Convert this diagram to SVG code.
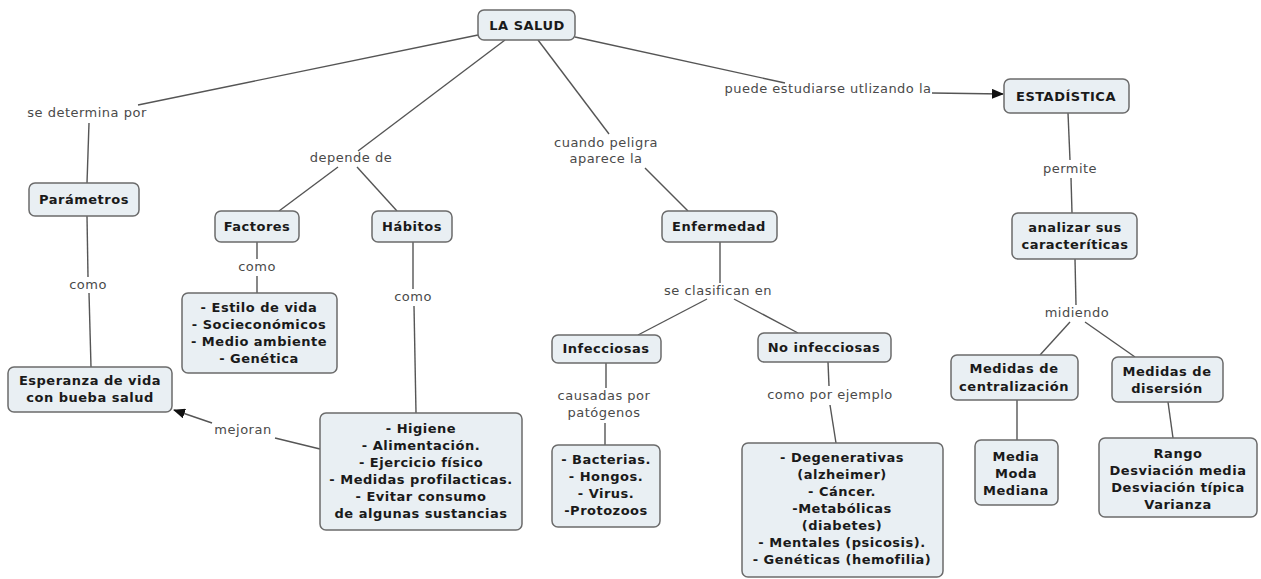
<svg xmlns="http://www.w3.org/2000/svg" width="1261" height="579" viewBox="0 0 1261 579">
<defs>
<style>
.n rect{fill:#e9eff3;stroke:#6b6b6b;stroke-width:1.5}
.n text{font-family:"DejaVu Sans",Verdana,sans-serif;font-weight:bold;font-size:13px;letter-spacing:0.5px;fill:#1a1a1a;text-anchor:middle}
.c line,.c polyline{stroke:#555;stroke-width:1.4;fill:none}
.l{font-family:"DejaVu Sans",Verdana,sans-serif;font-size:13px;letter-spacing:0.5px;fill:#4a4a4a;text-anchor:middle}
</style>
<marker id="ah" markerWidth="12" markerHeight="10" refX="11" refY="5" orient="auto" markerUnits="userSpaceOnUse">
<path d="M0,0 L12,5 L0,10 z" fill="#111"/>
</marker>
</defs>
<rect width="1261" height="579" fill="#fff"/>
<g class="c" id="connectors">
<line x1="478" y1="35" x2="138" y2="105"/>
<line x1="89" y1="123" x2="87" y2="183"/>
<line x1="505" y1="40" x2="358" y2="151"/>
<line x1="338" y1="167" x2="279" y2="211"/>
<line x1="357" y1="167" x2="397" y2="211"/>
<line x1="538" y1="40" x2="609" y2="134"/>
<line x1="645" y1="168" x2="688" y2="211"/>
<line x1="575" y1="37" x2="785" y2="83"/>
<line x1="932" y1="93" x2="1003" y2="94" marker-end="url(#ah)"/>
<line x1="1068" y1="113" x2="1070" y2="160"/>
<line x1="1071" y1="178" x2="1072" y2="213"/>
<line x1="1075" y1="259" x2="1076" y2="305"/>
<line x1="1070" y1="322" x2="1040" y2="355"/>
<line x1="1085" y1="322" x2="1135" y2="357"/>
<line x1="1017" y1="400" x2="1017" y2="440"/>
<line x1="1168" y1="402" x2="1173" y2="438"/>
<line x1="87" y1="216" x2="88" y2="277"/>
<line x1="89" y1="293" x2="91" y2="367"/>
<line x1="257" y1="242" x2="257" y2="259"/>
<line x1="257" y1="276" x2="257" y2="293"/>
<line x1="413" y1="242" x2="413" y2="289"/>
<line x1="414" y1="306" x2="416" y2="413"/>
<line x1="320" y1="449" x2="275" y2="438"/>
<line x1="212" y1="423" x2="174" y2="410" marker-end="url(#ah)"/>
<line x1="720" y1="242" x2="720" y2="283"/>
<line x1="707" y1="299" x2="638" y2="335"/>
<line x1="734" y1="299" x2="798" y2="333"/>
<line x1="606" y1="363" x2="606" y2="388"/>
<line x1="605" y1="423" x2="605" y2="445"/>
<line x1="828" y1="362" x2="829" y2="386"/>
<line x1="830" y1="405" x2="836" y2="443"/>
</g>
<g id="labels">
<text class="l" x="87" y="117">se determina por</text>
<text class="l" x="351" y="162">depende de</text>
<text class="l" x="606" y="147">cuando peligra</text>
<text class="l" x="606" y="163">aparece la</text>
<text class="l" x="828" y="93">puede estudiarse utlizando la</text>
<text class="l" x="1070" y="173">permite</text>
<text class="l" x="1077" y="317">midiendo</text>
<text class="l" x="88" y="289">como</text>
<text class="l" x="257" y="271">como</text>
<text class="l" x="413" y="301">como</text>
<text class="l" x="243" y="434">mejoran</text>
<text class="l" x="718" y="295">se clasifican en</text>
<text class="l" x="604" y="400">causadas por</text>
<text class="l" x="604" y="417">patógenos</text>
<text class="l" x="830" y="399">como por ejemplo</text>
</g>
<g class="n" id="salud"><rect x="478" y="10" width="97" height="30" rx="6"/><text x="527" y="30">LA SALUD</text></g>
<g class="n" id="estadistica"><rect x="1004" y="79" width="125" height="34" rx="6"/><text x="1066" y="101">ESTADÍSTICA</text></g>
<g class="n" id="parametros"><rect x="29" y="183" width="110" height="33" rx="6"/><text x="84" y="204">Parámetros</text></g>
<g class="n" id="factores"><rect x="215" y="211" width="84" height="31" rx="6"/><text x="257" y="231">Factores</text></g>
<g class="n" id="habitos"><rect x="372" y="211" width="80" height="31" rx="6"/><text x="412" y="231">Hábitos</text></g>
<g class="n" id="factores-lista"><rect x="182" y="293" width="155" height="80" rx="6"/>
<text x="259" y="312">- Estilo de vida</text><text x="259" y="329">- Socieconómicos</text><text x="259" y="346">- Medio ambiente</text><text x="259" y="363">- Genética</text></g>
<g class="n" id="esperanza"><rect x="8" y="367" width="164" height="45" rx="6"/>
<text x="90" y="385">Esperanza de vida</text><text x="90" y="402">con bueba salud</text></g>
<g class="n" id="habitos-lista"><rect x="320" y="413" width="202" height="117" rx="6"/>
<text x="421" y="433">- Higiene</text><text x="421" y="450">- Alimentación.</text><text x="421" y="467">- Ejercicio físico</text><text x="421" y="484">- Medidas profilacticas.</text><text x="421" y="501">- Evitar consumo</text><text x="421" y="518">de algunas sustancias</text></g>
<g class="n" id="enfermedad"><rect x="662" y="211" width="115" height="31" rx="6"/><text x="719" y="231">Enfermedad</text></g>
<g class="n" id="infecciosas"><rect x="552" y="335" width="109" height="28" rx="6"/><text x="606" y="353">Infecciosas</text></g>
<g class="n" id="no-infecciosas"><rect x="758" y="333" width="133" height="29" rx="6"/><text x="824" y="352">No infecciosas</text></g>
<g class="n" id="patogenos"><rect x="552" y="445" width="108" height="82" rx="6"/>
<text x="606" y="464">- Bacterias.</text><text x="606" y="481">- Hongos.</text><text x="606" y="498">- Virus.</text><text x="606" y="515">-Protozoos</text></g>
<g class="n" id="no-infecciosas-lista"><rect x="742" y="443" width="201" height="134" rx="6"/>
<text x="842" y="462">- Degenerativas</text><text x="842" y="479">(alzheimer)</text><text x="842" y="496">- Cáncer.</text><text x="842" y="513">-Metabólicas</text><text x="842" y="530">(diabetes)</text><text x="842" y="547">- Mentales (psicosis).</text><text x="842" y="564">- Genéticas (hemofilia)</text></g>
<g class="n" id="analizar"><rect x="1012" y="213" width="125" height="46" rx="6"/>
<text x="1075" y="232">analizar sus</text><text x="1075" y="249">caracteríticas</text></g>
<g class="n" id="centralizacion"><rect x="951" y="355" width="127" height="45" rx="6"/>
<text x="1014" y="373">Medidas de</text><text x="1014" y="391">centralización</text></g>
<g class="n" id="disersion"><rect x="1112" y="357" width="111" height="45" rx="6"/>
<text x="1167" y="376">Medidas de</text><text x="1167" y="393">disersión</text></g>
<g class="n" id="media"><rect x="975" y="440" width="83" height="65" rx="6"/>
<text x="1016" y="461">Media</text><text x="1016" y="478">Moda</text><text x="1016" y="495">Mediana</text></g>
<g class="n" id="rango"><rect x="1099" y="438" width="158" height="79" rx="6"/>
<text x="1178" y="458">Rango</text><text x="1178" y="475">Desviación media</text><text x="1178" y="492">Desviación típica</text><text x="1178" y="509">Varianza</text></g>
</svg>
